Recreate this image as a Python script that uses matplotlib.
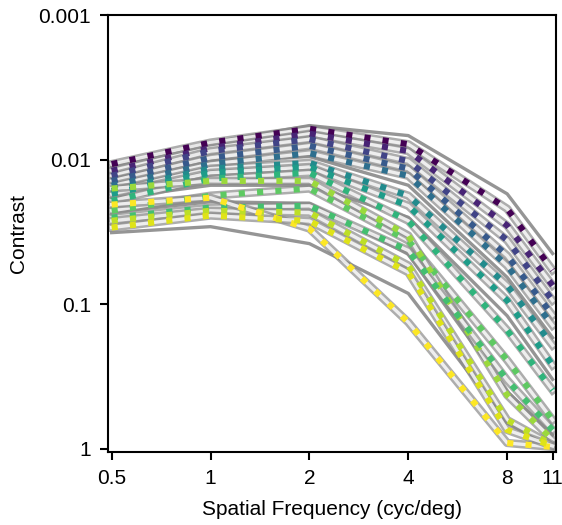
import matplotlib
matplotlib.use("Agg")
import matplotlib.pyplot as plt
import numpy as np

plt.rcParams['font.family'] = ['Liberation Sans', 'DejaVu Sans']

# spatial frequencies (cyc/deg)
freqs = [0.5, 1, 2, 4, 8, 11]

# contrast thresholds, one curve per condition (dotted, coloured)
curves = [
    [0.0107, 0.0076, 0.0061, 0.0078, 0.0218, 0.058],
    [0.0119, 0.0083, 0.0066, 0.0087, 0.0285, 0.074],
    [0.0129, 0.0087, 0.0072, 0.0102, 0.036, 0.094],
    [0.0140, 0.0097, 0.0080, 0.0115, 0.046, 0.119],
    [0.0151, 0.0107, 0.0090, 0.0129, 0.054, 0.140],
    [0.0164, 0.0115, 0.0105, 0.0177, 0.074, 0.192],
    [0.0172, 0.0123, 0.0112, 0.0208, 0.094, 0.264],
    [0.0192, 0.0135, 0.0123, 0.0264, 0.151, 0.392],
    [0.0225, 0.0177, 0.0158, 0.0362, 0.243, 0.631],
    [0.0158, 0.0140, 0.0140, 0.0334, 0.424, 0.867],
    [0.0251, 0.0214, 0.0208, 0.0424, 0.334, 0.739],
    [0.0264, 0.0225, 0.0232, 0.0538, 0.631, 0.938],
    [0.0204, 0.0183, 0.0299, 0.133, 0.909, 0.969],
    [0.0294, 0.0243, 0.0265, 0.0600, 0.739, 0.953],
]
# position of each curve on the viridis colormap
color_pos = [0.0, 0.1, 0.2, 0.28, 0.36, 0.48, 0.55, 0.65, 0.75, 0.85, 0.7, 0.9, 1.0, 0.95]

# extra gray-only curves
gray_curves = [
    [0.0319, 0.0290, 0.0380, 0.0840, 0.662, 0.969],
    [0.0110, 0.0076, 0.0058, 0.0068, 0.0172, 0.0445],
    [0.0185, 0.0150, 0.0150, 0.0250, 0.120, 0.330],
    [0.0230, 0.0195, 0.0200, 0.0450, 0.400, 0.800],
    [0.0135, 0.0100, 0.0095, 0.0150, 0.065, 0.170],
]

fig = plt.figure(figsize=(5.62, 5.25), dpi=100)
ax = fig.add_axes([0.192, 0.139, 0.797, 0.832])

gray = '#8a8a8a'
for g in gray_curves:
    ax.plot(freqs, g, color=gray, lw=2.4, alpha=0.9)
for c in curves:
    ax.plot(freqs, c, color=gray, lw=6.0, alpha=0.7)
    ax.plot(freqs, c, color='white', lw=2.4, alpha=0.8)

cmap = plt.get_cmap('viridis')
for c, p in zip(curves, color_pos):
    ax.plot(freqs, c, color=cmap(p), lw=4.4, linestyle=(0, (1, 2.0)))

ax.set_xscale('log')
ax.set_yscale('log')
ax.set_xlim(0.487, 11.25)
ax.set_ylim(1.05, 0.001)
ax.set_xticks(freqs)
ax.set_xticklabels(['0.5', '1', '2', '4', '8', '11'])
ax.set_yticks([0.001, 0.01, 0.1, 1])
ax.set_yticklabels(['0.001', '0.01', '0.1', '1'])
ax.minorticks_off()
ax.tick_params(labelsize=15, length=6, width=1.5, direction='out', pad=6)
for s in ax.spines.values():
    s.set_linewidth(1.5)

ax.set_xlabel('Spatial Frequency (cyc/deg)', fontsize=15, labelpad=9)
ax.set_ylabel('Contrast', fontsize=15, labelpad=8)

fig.savefig('out.png', dpi=100)
